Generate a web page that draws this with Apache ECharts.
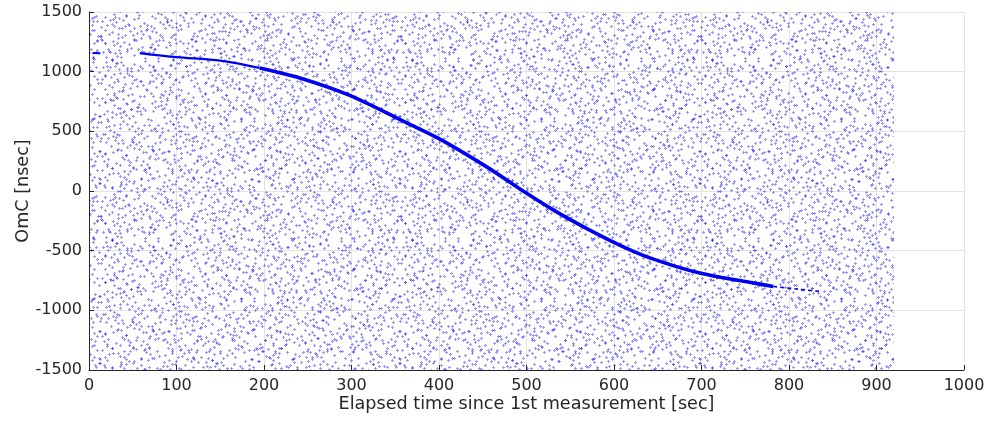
<!DOCTYPE html>
<html>
<head>
<meta charset="utf-8">
<script src="https://cdn.jsdelivr.net/npm/echarts@6/dist/echarts.min.js"></script>
<style>
html,body{margin:0;padding:0;background:#fff;}
#chart{width:986px;height:423px;}
</style>
</head>
<body>
<div id="chart"></div>
<script>
// ---- data ----
// dense fitted track (sec, nsec)
const startDashT = [4, 13];
const startDashV = [1157, 1155];
const earlyT = [58, 100, 150, 195];
const earlyV = [1156, 1122, 1092, 1031];
const mainT = [195, 241, 298, 355, 401, 455, 493, 531, 569, 607, 641, 698, 755, 782];
const mainV = [1031, 947, 801, 600, 435, 200, 15, -160, -315, -455, -560, -688, -765, -800];
const tailT = [782, 810, 835];
const tailV = [-800, -822, -842];
// extent of the uniform outlier cloud (sec / nsec)
const cloudT = [0, 920];
const cloudV = [-1500, 1500];
// axis ticks
const xTicks = [0, 100, 200, 300, 400, 500, 600, 700, 800, 900, 1000];
const yTicks = [-1500, -1000, -500, 0, 500, 1000, 1500];

// texture standing in for the outlier cloud (too dense to read point by point);
// speckle layout estimated from a patch of the reference, 100x60 px block
const tileSpeckle = (
 '1,2 6,7 8,1 14,5 20,8 23,1 27,4 29,9 35,2 32,6 51,0 58,5 54,9 66,3 62,8 ' +
 '70,1 73,4 75,8 78,2 79,6 87,7 92,0 95,5 99,3 ' +
 '3,14 8,18 10,10 14,12 16,17 19,15 32,19 35,11 38,14 41,13 44,18 47,16 56,11 ' +
 '60,15 62,12 65,19 68,10 73,16 79,11 81,11 85,14 86,19 94,17 ' +
 '6,22 11,26 15,20 18,29 23,23 27,27 30,25 32,21 34,28 36,24 39,22 48,26 52,29 55,23 ' +
 '71,24 76,20 77,28 80,28 83,22 85,26 89,20 92,25 97,21 ' +
 '0,31 2,36 5,33 8,39 21,30 26,35 24,39 37,37 43,32 49,38 50,36 53,30 56,34 58,38 ' +
 '62,33 65,39 69,31 74,35 81,38 87,32 90,34 94,30 98,36 ' +
 '4,41 7,46 12,48 16,43 29,45 30,42 33,47 36,40 41,45 43,41 45,49 47,44 49,47 ' +
 '63,40 68,48 70,44 72,49 75,42 79,46 85,45 91,49 94,43 97,40 ' +
 '2,50 5,57 9,54 13,53 20,56 24,51 26,59 28,54 41,58 46,52 50,54 54,58 57,51 ' +
 '65,55 72,51 78,57 80,50 82,56 84,53 87,59 89,52 93,57 96,52'
).trim();
// arrangement of the block in a 3x3 texture: 0 as is, 1 mirrored, 2 flipped, 3 turned
const blockLayout = [[0, 1, 3], [2, 3, 0], [1, 0, 2]];
const blockLayout2 = [[3, 2, 1], [1, 0, 2], [0, 3, 1]];

function makeTexture() {
  const bw = 100, bh = 60;
  const W = bw * 3, H = bh * 3;
  const c = document.createElement('canvas');
  c.width = W; c.height = H;
  const ctx = c.getContext('2d');
  ctx.fillStyle = 'rgba(0,0,255,0.4)';
  const px = (x, y) => ctx.fillRect(((x % W) + W) % W, ((y % H) + H) % H, 1, 1);
  const plus = (x, y) => { px(x, y); px(x - 1, y); px(x + 1, y); px(x, y - 1); px(x, y + 1); };
  const pts = tileSpeckle.split(/\s+/).map(s => s.split(',').map(Number));
  const layer = (layout, dx, dy, subset) => layout.forEach((row, r) => row.forEach((k, col) => {
    subset.forEach(([x, y]) => {
      const xx = (k === 1 || k === 3) ? bw - 1 - x : x;
      const yy = (k === 2 || k === 3) ? bh - 1 - y : y;
      plus(col * bw + xx + dx, r * bh + yy + dy);
    });
  }));
  layer(blockLayout, 0, 0, pts);
  layer(blockLayout2, 47, 29, pts.filter((p, i) => i % 2 === 1));
  return c;
}

const toPairs = (t, v) => t.map((x, i) => [x, v[i]]);
const blue = '#0000f0';
const axisCol = '#262626';
const fontFam = 'DejaVu Sans';

const chart = echarts.init(document.getElementById('chart'));
chart.setOption({
  animation: false,
  backgroundColor: '#ffffff',
  grid: { left: 89, right: 22, top: 12, bottom: 53, containLabel: false, outerBoundsMode: 'none' },
  xAxis: {
    type: 'value', min: xTicks[0], max: xTicks[xTicks.length - 1], interval: 100,
    name: 'Elapsed time since 1st measurement [sec]',
    nameLocation: 'middle', nameGap: 25, nameMoveOverlap: false,
    nameTextStyle: { fontFamily: fontFam, fontSize: 17.6, color: axisCol },
    axisLine: { onZero: false, lineStyle: { color: axisCol, width: 1 } },
    axisTick: { inside: true, length: 5, lineStyle: { color: axisCol } },
    axisLabel: { margin: 8, fontFamily: fontFam, fontSize: 16, color: axisCol,
                 formatter: v => String(v) },
    splitLine: { show: true, lineStyle: { color: '#e3e3e3', width: 1 } }
  },
  yAxis: {
    type: 'value', min: yTicks[0], max: yTicks[yTicks.length - 1], interval: 500,
    name: 'OmC [nsec]',
    nameLocation: 'middle', nameGap: 57, nameMoveOverlap: false,
    nameTextStyle: { fontFamily: fontFam, fontSize: 17.6, color: axisCol },
    axisLine: { show: true, onZero: false, lineStyle: { color: axisCol, width: 1 } },
    axisTick: { show: true, inside: true, length: 5, lineStyle: { color: axisCol } },
    axisLabel: { margin: 7, fontFamily: fontFam, fontSize: 16, color: axisCol,
                 formatter: v => String(v) },
    splitLine: { show: true, lineStyle: { color: '#e3e3e3', width: 1 } }
  },
  series: [
    {
      name: 'cloud', type: 'scatter', data: [], z: 1, silent: true,
      markArea: {
        silent: true,
        label: { show: false },
        itemStyle: { color: { image: makeTexture(), repeat: 'repeat' }, opacity: 1, borderWidth: 0 },
        data: [[{ coord: [cloudT[0], cloudV[0]] }, { coord: [cloudT[1], cloudV[1]] }]]
      }
    },
    {
      type: 'line', data: toPairs(startDashT, startDashV), z: 3, symbol: 'none',
      lineStyle: { color: blue, width: 2 }
    },
    {
      type: 'line', data: toPairs(earlyT, earlyV), z: 3, symbol: 'none', smooth: 0.3,
      lineStyle: { color: blue, width: 2.2 }
    },
    {
      type: 'line', data: toPairs(mainT, mainV), z: 3, symbol: 'none', smooth: 0.3,
      lineStyle: { color: blue, width: 3.6 }
    },
    {
      type: 'line', data: toPairs(tailT, tailV), z: 3, symbol: 'none', smooth: 0.3,
      lineStyle: { color: blue, width: 1.6, type: [4, 3] }
    }
  ]
});
</script>
</body>
</html>
